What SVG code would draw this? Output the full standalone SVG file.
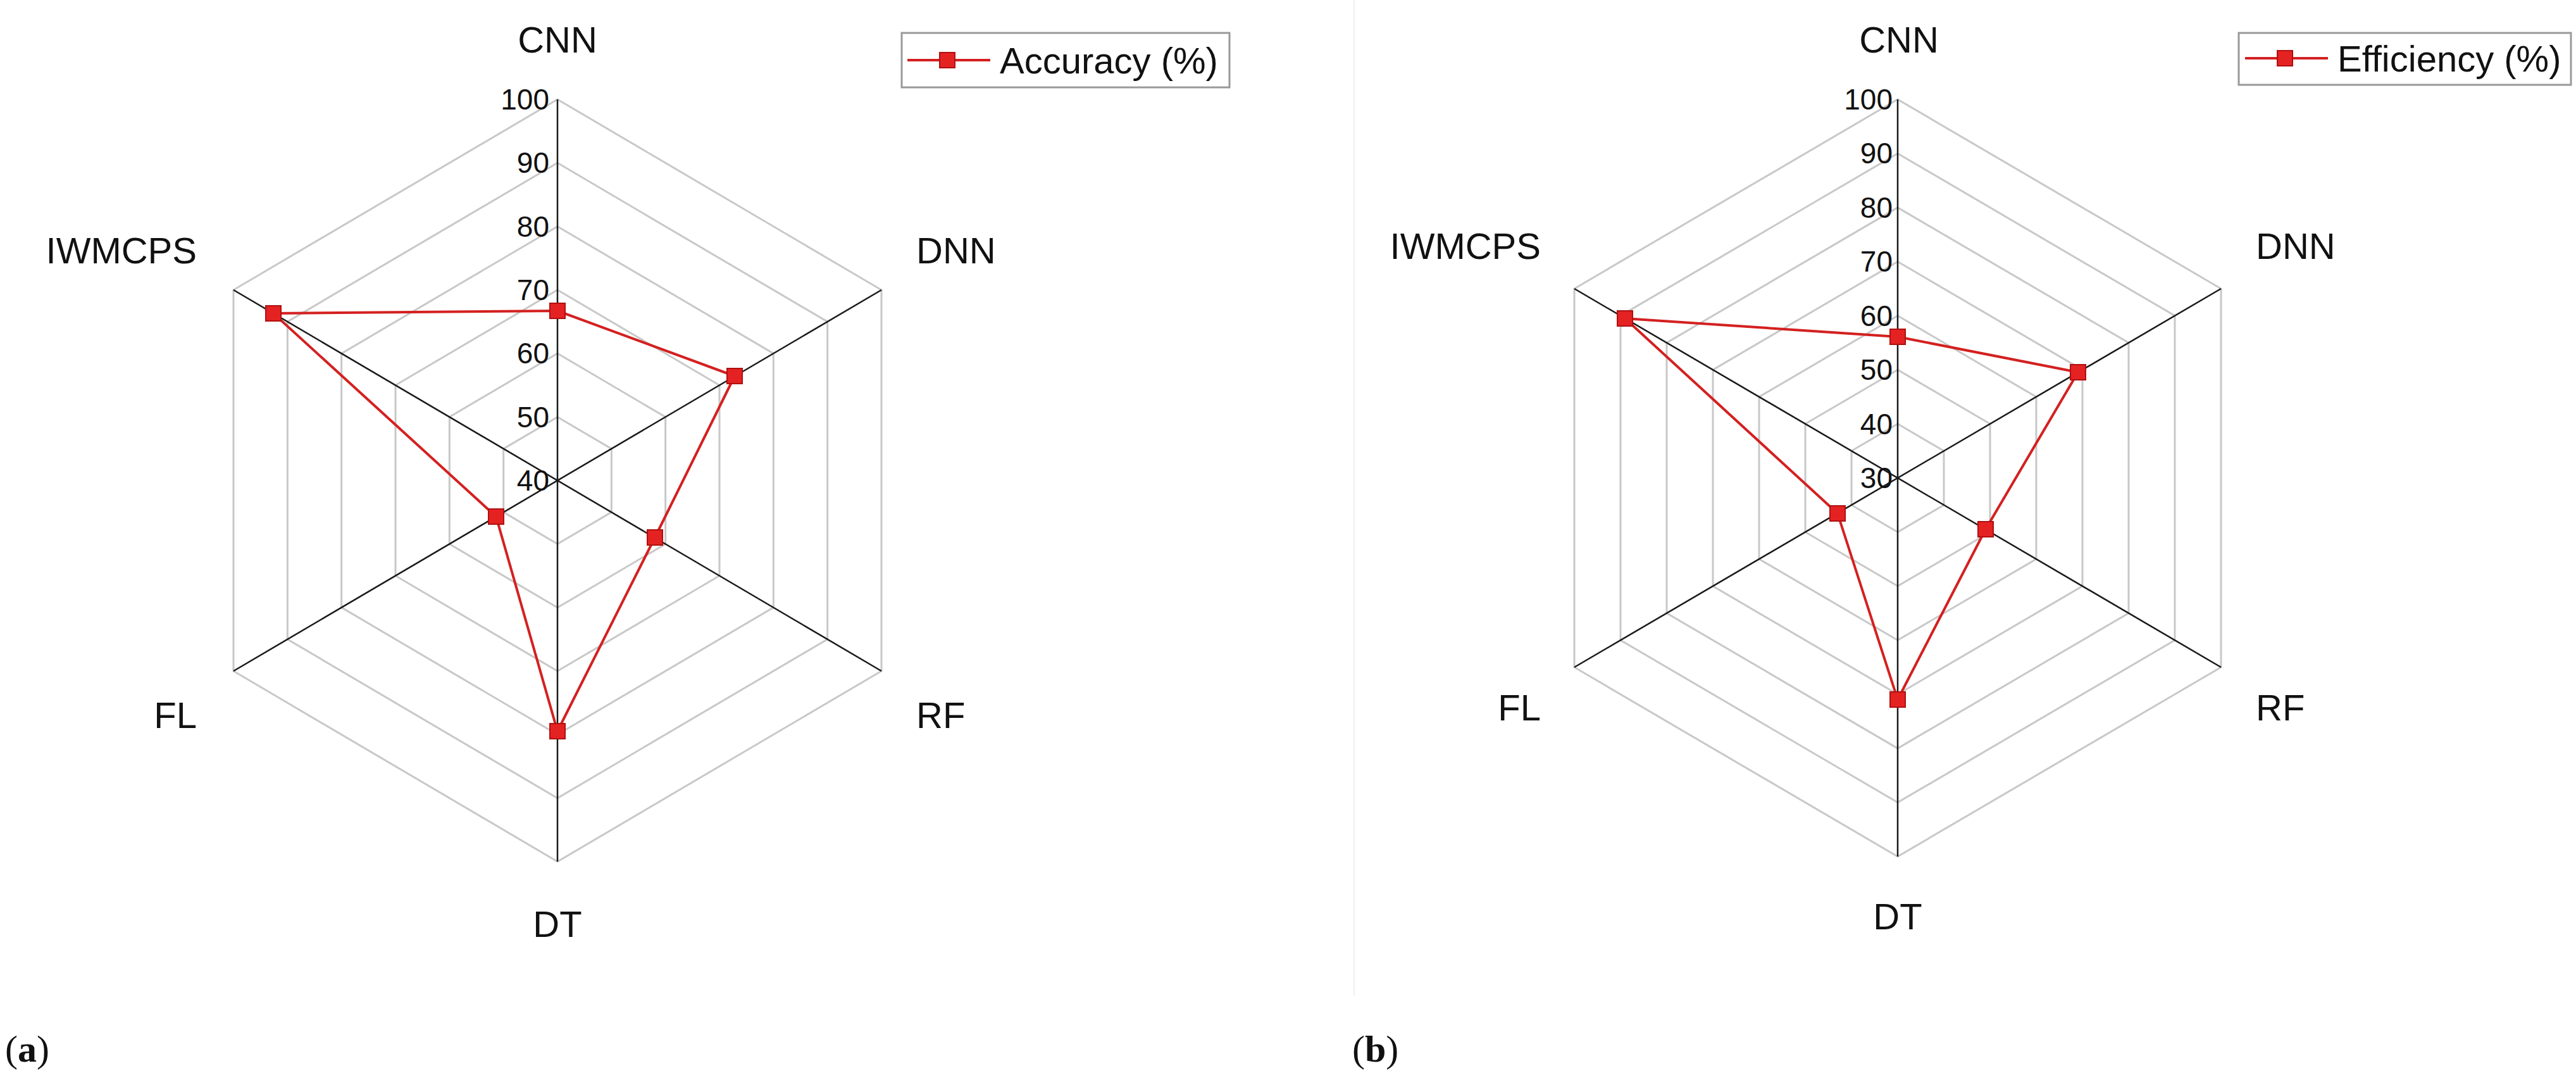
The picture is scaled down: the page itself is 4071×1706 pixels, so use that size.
<svg xmlns="http://www.w3.org/2000/svg" xmlns:xlink="http://www.w3.org/1999/xlink" width="4071" height="1706" viewBox="0 0 4071 1706">
<style>
.ring{fill:none;stroke:#c8c8c8;stroke-width:3}
.axis{stroke:#1a1a1a;stroke-width:2.5}
.data{fill:none;stroke:#d42020;stroke-width:4;stroke-linejoin:round}
.mk{fill:#e52222;stroke:#b01010;stroke-width:2}
.lab{font-family:"Liberation Sans",Arial,sans-serif;font-size:58px;fill:#111}
.tick{font-family:"Liberation Sans",Arial,sans-serif;font-size:46px;fill:#111;text-anchor:end;dominant-baseline:central}
.cap{font-family:"Liberation Serif","Times New Roman",serif;font-size:60px;fill:#111}
.leg{fill:#fff;stroke:#999;stroke-width:3}
</style>
<defs>
<polygon id="hex" points="0,-1 1,-0.5 1,0.5 0,1 -1,0.5 -1,-0.5" vector-effect="non-scaling-stroke"/>
<rect id="sq" x="-12" y="-12" width="24" height="24"/>
</defs>
<rect width="4071" height="1706" fill="#fff"/>
<line x1="2140" y1="0" x2="2140" y2="1573" stroke="#f0f0f0" stroke-width="2"/>
<g id="chartA">
<g class="ring" transform="translate(881,759)">
<use href="#hex" transform="scale(85.33,100.33)"/><use href="#hex" transform="scale(170.67,200.67)"/><use href="#hex" transform="scale(256,301)"/><use href="#hex" transform="scale(341.33,401.33)"/><use href="#hex" transform="scale(426.67,501.67)"/><use href="#hex" transform="scale(512,602)"/>
</g>
<g class="axis">
<line x1="881" y1="157" x2="881" y2="1361"/><line x1="369" y1="458" x2="1393" y2="1060"/><line x1="369" y1="1060" x2="1393" y2="458"/>
</g>
<g class="tick"><text x="868" y="759">40</text><text x="868" y="659">50</text><text x="868" y="558">60</text><text x="868" y="458">70</text><text x="868" y="358">80</text><text x="868" y="257">90</text><text x="868" y="157">100</text></g>
<polygon class="data" points="881,491 1161,594 1035,849 881,1155 784,816 432,495"/>
<g class="mk"><use href="#sq" x="881" y="491"/><use href="#sq" x="1161" y="594"/><use href="#sq" x="1035" y="849"/><use href="#sq" x="881" y="1155"/><use href="#sq" x="784" y="816"/><use href="#sq" x="432" y="495"/></g>
<g class="lab"><text x="881" y="83" text-anchor="middle">CNN</text><text x="1448" y="416">DNN</text><text x="1448" y="1150">RF</text><text x="881" y="1480" text-anchor="middle">DT</text><text x="311" y="1150" text-anchor="end">FL</text><text x="311" y="416" text-anchor="end">IWMCPS</text></g>
<g id="legendA"><rect class="leg" x="1425" y="52" width="518" height="86"/><line x1="1434" y1="95" x2="1565" y2="95" stroke="#d42020" stroke-width="4"/><use class="mk" href="#sq" x="1497" y="95" transform="translate(0,0)"/><text class="lab" x="1580" y="116">Accuracy (%)</text></g>
<text class="cap" x="8" y="1677">(<tspan font-weight="bold">a</tspan>)</text>
</g>
<g id="chartB">
<g class="ring" transform="translate(2999,755)">
<use href="#hex" transform="scale(73,85.43)"/><use href="#hex" transform="scale(146,170.86)"/><use href="#hex" transform="scale(219,256.29)"/><use href="#hex" transform="scale(292,341.71)"/><use href="#hex" transform="scale(365,427.14)"/><use href="#hex" transform="scale(438,512.57)"/><use href="#hex" transform="scale(511,598)"/>
</g>
<g class="axis">
<line x1="2999" y1="157" x2="2999" y2="1353"/><line x1="2488" y1="456" x2="3510" y2="1054"/><line x1="2488" y1="1054" x2="3510" y2="456"/>
</g>
<g class="tick"><text x="2991" y="755">30</text><text x="2991" y="670">40</text><text x="2991" y="584">50</text><text x="2991" y="499">60</text><text x="2991" y="413">70</text><text x="2991" y="328">80</text><text x="2991" y="242">90</text><text x="2991" y="157">100</text></g>
<polygon class="data" points="2999,532 3284,588 3138,836 2999,1105 2904,811 2568,503"/>
<g class="mk"><use href="#sq" x="2999" y="532"/><use href="#sq" x="3284" y="588"/><use href="#sq" x="3138" y="836"/><use href="#sq" x="2999" y="1105"/><use href="#sq" x="2904" y="811"/><use href="#sq" x="2568" y="503"/></g>
<g class="lab"><text x="3001" y="83" text-anchor="middle">CNN</text><text x="3565" y="409">DNN</text><text x="3565" y="1138">RF</text><text x="2999" y="1468" text-anchor="middle">DT</text><text x="2435" y="1138" text-anchor="end">FL</text><text x="2435" y="409" text-anchor="end">IWMCPS</text></g>
<g id="legendB"><rect class="leg" x="3538" y="52" width="525" height="82"/><line x1="3548" y1="92" x2="3679" y2="92" stroke="#d42020" stroke-width="4"/><use class="mk" href="#sq" x="3611" y="92"/><text class="lab" x="3694" y="113">Efficiency (%)</text></g>
<text class="cap" x="2137" y="1677">(<tspan font-weight="bold">b</tspan>)</text>
</g>
</svg>
